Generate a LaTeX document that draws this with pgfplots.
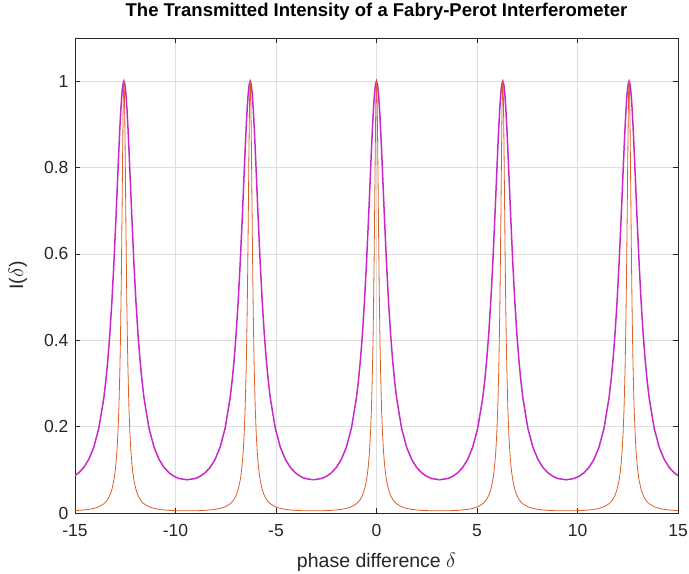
\documentclass[border=0pt]{standalone}
\usepackage{pgfplots}
\usepackage{pgfplotstable}
\pgfplotsset{compat=1.18}
\usepackage{fontspec}
\setmainfont{Liberation Sans}
\definecolor{mag}{RGB}{200,40,200}
\definecolor{org}{RGB}{220,95,40}
\definecolor{gridc}{RGB}{222,222,222}
\definecolor{axc}{RGB}{38,38,38}

\pgfplotstableread{
d I
-3.14159 0.07692
-2.75 0.07971
-2.5 0.08470
-2.25 0.09286
-2.0 0.10530
-1.75 0.12393
-1.5 0.15208
-1.25 0.19577
-1.0 0.26608
-0.9 0.30578
-0.8 0.35464
-0.7 0.41477
-0.6 0.48828
-0.5 0.57654
-0.4 0.67859
-0.35 0.73326
-0.3 0.78865
-0.25 0.84276
-0.2 0.89318
-0.15 0.93688
-0.1 0.97090
-0.05 0.99256
0 1
0.05 0.99256
0.1 0.97090
0.15 0.93688
0.2 0.89318
0.25 0.84276
0.3 0.78865
0.35 0.73326
0.4 0.67859
0.5 0.57654
0.6 0.48828
0.7 0.41477
0.8 0.35464
0.9 0.30578
1.0 0.26608
1.25 0.19577
1.5 0.15208
1.75 0.12393
2.0 0.10530
2.25 0.09286
2.5 0.08470
2.75 0.07971
3.14159 0.07692
}\tabM

\pgfplotstableread{
d I
-3.14159 0.00498
-2.75 0.00517
-2.5 0.00552
-2.25 0.00610
-2.0 0.00701
-1.75 0.00842
-1.5 0.01065
-1.25 0.01440
-1.0 0.02129
-0.9 0.02575
-0.8 0.03192
-0.7 0.04079
-0.6 0.05415
-0.5 0.07552
-0.45 0.09128
-0.4 0.11243
-0.35 0.14159
-0.3 0.18294
-0.25 0.24338
-0.2 0.33407
-0.18 0.38232
-0.16 0.43912
-0.145 0.48795
-0.13 0.54236
-0.115 0.60222
-0.1 0.66685
-0.09 0.71188
-0.08 0.75762
-0.07 0.80330
-0.06 0.84750
-0.05 0.88889
-0.04 0.92593
-0.03 0.95694
-0.02 0.98039
-0.01 0.99502
0 1
0.01 0.99502
0.02 0.98039
0.03 0.95694
0.04 0.92593
0.05 0.88889
0.06 0.84750
0.07 0.80330
0.08 0.75762
0.09 0.71188
0.1 0.66685
0.115 0.60222
0.13 0.54236
0.145 0.48795
0.16 0.43912
0.18 0.38232
0.2 0.33407
0.25 0.24338
0.3 0.18294
0.35 0.14159
0.4 0.11243
0.45 0.09128
0.5 0.07552
0.6 0.05415
0.7 0.04079
0.8 0.03192
0.9 0.02575
1.0 0.02129
1.25 0.01440
1.5 0.01065
1.75 0.00842
2.0 0.00701
2.25 0.00610
2.5 0.00552
2.75 0.00517
3.14159 0.00498
}\tabO

\begin{document}
\begin{tikzpicture}
\begin{axis}[
  name=ax,
  scale only axis,
  width=603pt, height=475pt,
  xmin=-15, xmax=15, ymin=0, ymax=1.1,
  xtick={-15,-10,...,15},
  ytick={0,0.2,0.4,0.6,0.8,1},
  grid=major,
  major grid style={gridc, line width=0.6pt},
  axis line style={axc, line width=0.7pt},
  tick style={axc, line width=0.7pt},
  tick align=inside,
  major tick length=5pt,
  /pgf/number format/assume math mode=true,
  ticklabel style={font=\fontsize{17.5}{19}\selectfont, text=axc},
  xticklabel style={yshift=-8pt},
  yticklabel style={xshift=-3pt},
  title={\bfseries The Transmitted Intensity of a Fabry-Perot Interferometer},
  title style={font=\fontsize{18.5}{21}\selectfont, at={(axis description cs:0.5,1.042)}, anchor=center},
  xlabel={phase difference $\delta$},
  xlabel style={font=\fontsize{19.5}{22}\selectfont, text=axc, at={(axis description cs:0.5,-0.103)}, anchor=center},
  ylabel={I($\delta$)},
  ylabel style={font=\fontsize{19.5}{22}\selectfont, text=axc, at={(axis description cs:-0.0945,0.5)}, anchor=center},
  clip=true,
]
\pgfplotsinvokeforeach{-12.56637,-6.28319,0,6.28319,12.56637}{
  \addplot[mag, line width=1.5pt] table[x expr=\thisrow{d}+#1, y=I] {\tabM};
}
\pgfplotsinvokeforeach{-12.56637,-6.28319,0,6.28319,12.56637}{
  \addplot[org, line width=0.8pt] table[x expr=\thisrow{d}+#1, y=I] {\tabO};
}
\end{axis}
\pgfresetboundingbox
\path ([shift={(-75pt,-61pt)}]ax.south west) rectangle ([shift={(11pt,38pt)}]ax.north east);
\end{tikzpicture}
\end{document}
